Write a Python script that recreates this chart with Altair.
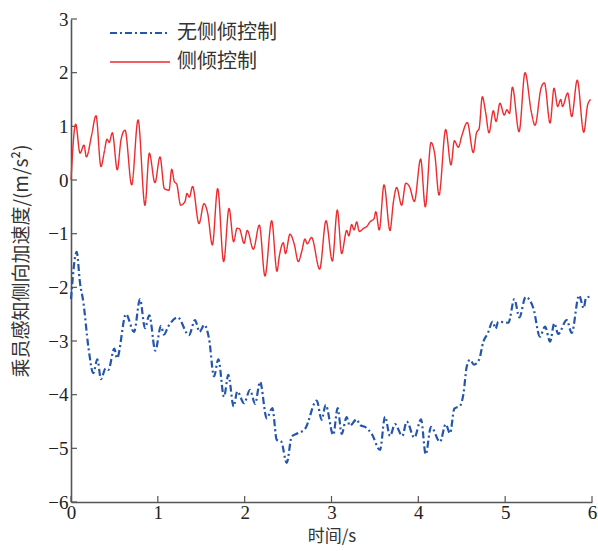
import altair as alt
import pandas as pd

# 侧倾控制 (red, solid)
red_t = [0.0, 0.054, 0.104, 0.15, 0.177, 0.238, 0.288, 0.345, 0.384, 0.415, 0.44, 0.476, 0.533, 0.576,
         0.622, 0.699, 0.772, 0.852, 0.902, 0.967, 1.025, 1.075, 1.129, 1.16, 1.19, 1.218, 1.263, 1.313,
         1.336, 1.363, 1.40, 1.474, 1.532, 1.574, 1.628, 1.689, 1.758, 1.82, 1.873, 1.912, 1.94, 1.993,
         2.03, 2.10, 2.169, 2.234, 2.311, 2.372, 2.40, 2.445, 2.47, 2.522, 2.57, 2.618, 2.656, 2.695,
         2.72, 2.77, 2.864, 2.937, 3.01, 3.067, 3.117, 3.175, 3.20, 3.232, 3.26, 3.29, 3.32, 3.37, 3.41,
         3.443, 3.49, 3.51, 3.55, 3.605, 3.674, 3.712, 3.75, 3.808, 3.855, 3.90, 3.954, 4.027, 4.08,
         4.146, 4.19, 4.238, 4.315, 4.376, 4.415, 4.461, 4.50, 4.564, 4.633, 4.67, 4.70, 4.737, 4.775,
         4.814, 4.864, 4.895, 4.94, 4.99, 5.02, 5.05, 5.083, 5.16, 5.229, 5.30, 5.344, 5.413, 5.452,
         5.517, 5.563, 5.605, 5.64, 5.66, 5.72, 5.766, 5.83, 5.905, 5.95, 5.985]
red_v = [0.0, 1.04, 0.50, 0.65, 0.43, 0.84, 1.20, 0.25, 0.53, 0.76, 0.70, 0.88, 0.19, 0.75,
         0.93, -0.09, 1.12, -0.47, 0.50, -0.05, 0.43, -0.16, -0.19, 0.20, -0.03, -0.08, -0.47, -0.40,
         -0.25, -0.32, -0.12, -0.81, -0.44, -0.62, -1.21, -0.16, -1.52, -0.53, -1.15, -0.90, -0.91, -1.18,
         -0.94, -1.29, -0.84, -1.79, -0.76, -1.70, -1.41, -1.17, -1.37, -1.01, -1.19, -1.52, -1.34, -1.10,
         -1.19, -1.07, -1.66, -0.76, -1.51, -0.56, -1.37, -0.94, -1.04, -0.83, -0.93, -0.78, -0.96, -0.90, -0.86,
         -0.78, -0.72, -0.59, -0.93, -0.09, -0.94, -0.42, -0.14, -0.47, -0.06, -0.13, -0.40, 0.39, -0.50,
         0.70, 0.47, -0.28, 0.94, 0.28, 0.73, 0.61, 0.82, 1.07, 0.51, 0.88, 0.96, 1.55, 1.26,
         0.88, 1.29, 1.09, 1.43, 1.21, 1.31, 1.24, 1.73, 0.90, 2.00, 1.28, 1.02, 1.71, 1.81,
         1.06, 1.71, 1.37, 1.50, 1.37, 1.62, 1.18, 1.86, 0.89, 1.40, 1.50]

# 无侧倾控制 (blue, dash-dot)
blue_t = [0.0, 0.065, 0.104, 0.142, 0.2, 0.257, 0.303, 0.345, 0.399, 0.43, 0.499, 0.53, 0.633, 0.726,
          0.795, 0.852, 0.902, 0.971, 1.036, 1.07, 1.12, 1.228, 1.359, 1.428, 1.48, 1.535, 1.59, 1.647,
          1.697, 1.762, 1.812, 1.873, 1.915, 1.993, 2.061, 2.12, 2.177, 2.254, 2.319, 2.369, 2.42, 2.484,
          2.542, 2.61, 2.695, 2.83, 2.887, 2.933, 3.02, 3.071, 3.117, 3.175, 3.21, 3.29, 3.33, 3.386,
          3.463, 3.559, 3.616, 3.674, 3.731, 3.816, 3.866, 3.954, 4.031, 4.085, 4.146, 4.25, 4.315, 4.365,
          4.415, 4.48, 4.52, 4.557, 4.595, 4.641, 4.699, 4.749, 4.799, 4.856, 4.89, 4.92, 5.037, 5.106,
          5.163, 5.236, 5.325, 5.40, 5.459, 5.517, 5.566, 5.61, 5.709, 5.766, 5.851, 5.905, 5.93, 5.99]
blue_v = [-2.22, -1.34, -1.92, -2.27, -3.11, -3.60, -3.34, -3.71, -3.51, -3.54, -3.14, -3.32, -2.50, -2.83,
          -2.22, -2.76, -2.52, -3.18, -2.72, -2.88, -2.73, -2.56, -2.89, -2.61, -2.83, -2.70, -2.96, -3.66,
          -3.34, -4.04, -3.63, -4.22, -3.94, -4.16, -3.91, -4.17, -3.76, -4.44, -4.25, -4.84, -4.87, -5.27,
          -4.78, -4.72, -4.64, -4.11, -4.47, -4.19, -4.75, -4.25, -4.73, -4.42, -4.58, -4.46, -4.57, -4.60,
          -4.73, -5.03, -4.41, -4.77, -4.55, -4.77, -4.50, -4.80, -4.46, -5.11, -4.60, -4.88, -4.55, -4.72,
          -4.26, -4.21, -3.98, -3.48, -3.35, -3.44, -3.35, -3.01, -2.86, -2.64, -2.77, -2.64, -2.66, -2.22,
          -2.56, -2.18, -2.39, -2.92, -2.73, -3.01, -2.67, -2.87, -2.61, -2.85, -2.15, -2.39, -2.20, -2.17]

series_names = ["无侧倾控制", "侧倾控制"]
series_colors = ["#2356ac", "#ee2b2f"]
x_ticks = [0, 1, 2, 3, 4, 5, 6]
y_ticks = [3, 2, 1, 0, -1, -2, -3, -4, -5, -6]

df = pd.concat([
    pd.DataFrame({"t": blue_t, "v": blue_v, "s": series_names[0], "o": range(len(blue_t))}),
    pd.DataFrame({"t": red_t, "v": red_v, "s": series_names[1], "o": range(len(red_t))}),
])

W, H = 521, 483
serif = "Liberation Serif"
cjk = "Noto Sans CJK SC"

xs = alt.Scale(domain=[0, 6], nice=False, zero=False)
ys = alt.Scale(domain=[-6, 3], nice=False, zero=False)
cscale = alt.Scale(domain=series_names, range=series_colors)
dscale = alt.Scale(domain=series_names, range=[[7, 3, 2, 3], [1, 0]])
wscale = alt.Scale(domain=series_names, range=[2.2, 1.4])

common_axis = dict(ticks=False, format="d", labelFont=serif, labelFontSize=19, labelColor="#222",
                   labelFlush=False, labelOverlap=False, titleFont=cjk,
                   titleFontWeight="normal", titleColor="#333", domainColor="#555", domainWidth=1.6,
                   grid=False)

lines = alt.Chart(df).mark_line(interpolate="monotone").encode(
    x=alt.X("t:Q", scale=xs, axis=alt.Axis(values=x_ticks, title="时间/s", labelPadding=1,
                                           titlePadding=6, titleFontSize=17, **common_axis)),
    y=alt.Y("v:Q", scale=ys, axis=alt.Axis(values=y_ticks, title="乘员感知侧向加速度/(m/s²)",
                                           labelPadding=3, titlePadding=16, titleFontSize=19,
                                           **common_axis)),
    color=alt.Color("s:N", scale=cscale, legend=None),
    strokeDash=alt.StrokeDash("s:N", scale=dscale, legend=None),
    strokeWidth=alt.StrokeWidth("s:N", scale=wscale, legend=None),
    order="o:Q",
)

# legend built from the series names
leg_df = pd.DataFrame({"s": series_names, "row": range(len(series_names))})
leg_base = alt.Chart(leg_df).transform_calculate(
    ly="14 + datum.row * 29", x1="39", x2="99", tx="106")
leg_rules = leg_base.mark_rule().encode(
    x=alt.X("x1:Q", scale=None), x2="x2:Q", y=alt.Y("ly:Q", scale=None),
    color=alt.Color("s:N", scale=cscale, legend=None),
    strokeDash=alt.StrokeDash("s:N", scale=dscale, legend=None),
    strokeWidth=alt.StrokeWidth("s:N", scale=wscale, legend=None),
)
leg_text = leg_base.mark_text(align="left", baseline="middle", font=cjk, fontSize=20,
                              color="#333").encode(
    x=alt.X("tx:Q", scale=None), y=alt.Y("ly:Q", scale=None), text="s:N")

ytick_df = pd.DataFrame({"v": y_ticks})
xtick_df = pd.DataFrame({"t": x_ticks})
yt = alt.Chart(ytick_df).mark_rule(color="#555", strokeWidth=1.2).encode(
    y=alt.Y("v:Q", scale=ys), x=alt.value(0), x2=alt.value(6))
xt = alt.Chart(xtick_df).mark_rule(color="#555", strokeWidth=1.2).encode(
    x=alt.X("t:Q", scale=xs), y=alt.value(H), y2=alt.value(H - 6))

chart = alt.layer(yt, xt, lines, leg_rules, leg_text).properties(
    width=W, height=H,
    autosize=alt.AutoSizeParams(type="none"),
    padding={"left": 71, "top": 19, "right": 6, "bottom": 49},
).configure_view(stroke=None)

chart.save("out.html", embed_options={"renderer": "svg", "actions": False})
